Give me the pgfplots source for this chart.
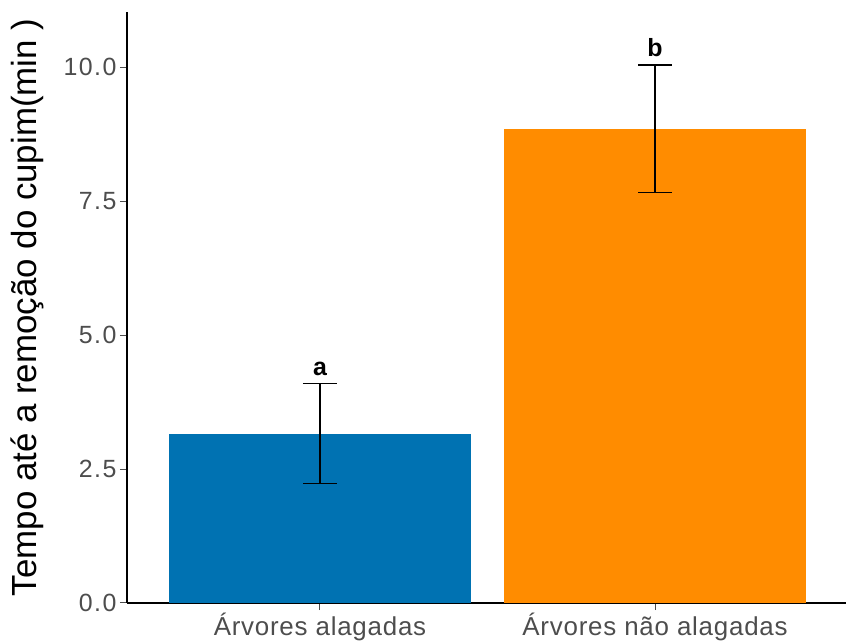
\documentclass[border=0pt]{standalone}
\usepackage{fontspec}
\setmainfont{Liberation Sans}
\newfontfamily\xtickfont[LetterSpace=3]{Liberation Sans}
\newfontfamily\ytickfont[LetterSpace=6]{Liberation Sans}
\usepackage{pgfplots}
\pgfplotsset{compat=1.18}
\definecolor{cblue}{HTML}{0072B2}
\definecolor{corange}{HTML}{FF8C00}
\definecolor{tickgray}{HTML}{4D4D4D}
\begin{document}
\begin{tikzpicture}
\useasboundingbox (0,0) rectangle (846bp,644bp);
\begin{axis}[
  at={(127bp,41bp)}, anchor=south west,
  scale only axis, width=719bp, height=591bp,
  xmin=0.424, xmax=2.57, ymin=0, ymax=11.03,
  axis x line*=bottom, axis y line*=left,
  axis line style={line width=2bp, black},
  xtick={1,2}, xticklabels={Árvores alagadas, Árvores não alagadas},
  ytick={0,2.5,5,7.5,10},
  tick style={tickgray, line width=1bp},
  tick align=outside, major tick length=7bp,
  y tick label style={/pgf/number format/.cd, fixed, fixed zerofill, precision=1, assume math mode=true, /tikz/.cd,
    font=\ytickfont\fontsize{25}{25}\selectfont, color=tickgray},
  x tick label style={font=\xtickfont\fontsize{26}{26}\selectfont, color=tickgray},
  ylabel={Tempo até a remoção do cupim(min )},
  ylabel style={font=\fontsize{35}{35}\selectfont, at={(axis description cs:-0.138,0.5)}, anchor=center},
  clip=false,
]
\addplot[ybar, bar width=0.9, fill=cblue, draw=none,
  error bars/.cd, y dir=both, y explicit,
  error bar style={black, line width=1.2bp},
  error mark options={rotate=90, black, mark size=17bp, line width=1.2bp}]
  coordinates {(1,3.16) +- (0,0.93)};
\addplot[ybar, bar width=0.9, fill=corange, draw=none,
  error bars/.cd, y dir=both, y explicit,
  error bar style={black, line width=1.2bp},
  error mark options={rotate=90, black, mark size=17bp, line width=1.2bp}]
  coordinates {(2,8.85) +- (0,1.19)};
\node[anchor=south, inner sep=0pt, font=\bfseries\fontsize{25}{25}\selectfont] at (axis cs:1,4.09) [yshift=8bp] {a};
\node[anchor=south, inner sep=0pt, font=\bfseries\fontsize{25}{25}\selectfont] at (axis cs:2,10.04) [yshift=8bp] {b};
\end{axis}
\end{tikzpicture}
\end{document}
